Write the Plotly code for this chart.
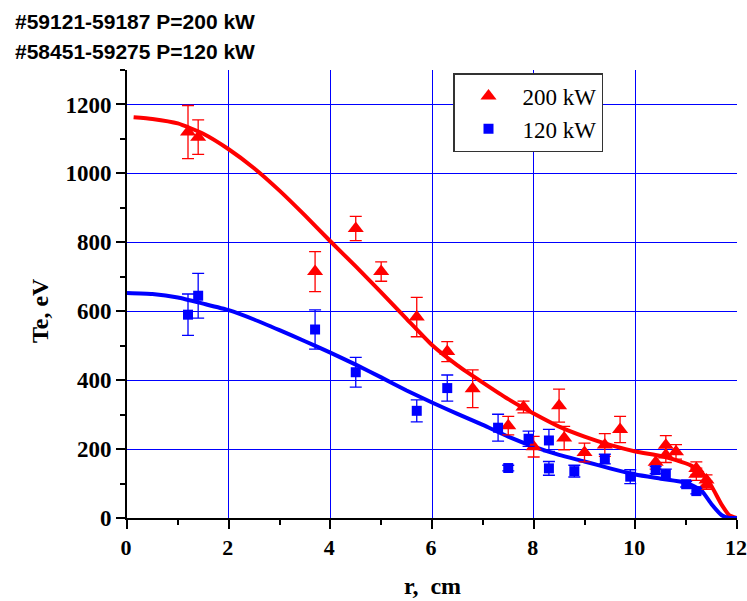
import plotly.graph_objects as go

# measured points, 200 kW
r_200 = [1.2, 1.4, 3.7, 4.5, 5.0, 5.7, 6.3, 6.8, 7.5, 7.8, 8.0, 8.5, 8.6, 9.0, 9.4, 9.7,
         10.4, 10.6, 10.6, 10.8, 11.2, 11.2, 11.4, 11.4]
te_200 = [1120, 1105, 715, 840, 715, 583, 483, 375, 268, 322, 207, 326, 232, 190, 212, 257,
          162, 211, 183, 192, 144, 127, 110, 95]
err_200 = [77, 50, 58, 35, 28, 57, 29, 55, 27, 17, 30, 48, 34, 27, 33, 38,
           20, 28, 22, 21, 19, 18, 15, 12]

# measured points, 120 kW
r_120 = [1.2, 1.4, 3.7, 4.5, 5.7, 6.3, 7.3, 7.5, 7.9, 8.3, 8.3, 8.8, 9.4, 9.9,
         10.4, 10.6, 11.0, 11.2]
te_120 = [590, 645, 547, 423, 311, 377, 262, 145, 230, 225, 144, 136, 171, 120,
          139, 127, 98, 78]
err_120 = [60, 65, 57, 43, 32, 38, 39, 8, 22, 32, 20, 17, 14, 20,
           10, 15, 8, 8]

# fitted profiles
fit_r_200 = [0.13, 0.5, 1.0, 1.5, 2.0, 2.5, 3.0, 3.5, 4.0, 4.5, 5.0, 5.5, 6.0, 6.5, 7.0,
             7.5, 8.0, 8.5, 9.0, 9.5, 10.0, 10.5, 10.8, 11.1, 11.3, 11.5, 11.7, 11.85, 12.0]
fit_te_200 = [1163, 1158, 1145, 1115, 1070, 1015, 950, 878, 803, 730, 655, 578, 502, 443, 393,
              345, 303, 265, 236, 212, 193, 180, 168, 152, 133, 92, 38, 8, 0]

fit_r_120 = [0.0, 0.5, 1.0, 1.5, 2.0, 2.5, 3.0, 3.5, 4.0, 4.5, 5.0, 5.5, 6.0, 6.5, 7.0,
             7.5, 8.0, 8.5, 9.0, 9.5, 10.0, 10.5, 11.0, 11.3, 11.5, 11.7, 11.85, 12.0]
fit_te_120 = [653, 650, 640, 622, 603, 576, 545, 513, 480, 445, 408, 370, 335, 302, 270,
              236, 207, 183, 164, 144, 126, 114, 102, 80, 40, 8, 0, 0]

title_lines = ["#59121-59187 P=200 kW", "#58451-59275 P=120 kW"]

RED = "#ff0000"
BLUE = "#0000ff"
SERIF = "Liberation Serif"

# page body margin is removed (post_script below), so figure pixels = window pixels
W, H = 747, 601
L, T = 127, 70
PW, PH = 610, 448


def px_x(x):
    return (x - L) / PW


def px_y(y):
    return 1 - (y - T) / PH


fig = go.Figure()

fig.add_trace(go.Scatter(x=fit_r_200, y=fit_te_200, mode="lines",
                         line={"color": RED, "width": 4, "shape": "spline", "smoothing": 0.5},
                         showlegend=False, hoverinfo="skip"))
fig.add_trace(go.Scatter(x=fit_r_120, y=fit_te_120, mode="lines",
                         line={"color": BLUE, "width": 4, "shape": "spline", "smoothing": 0.5},
                         showlegend=False, hoverinfo="skip"))

fig.add_trace(go.Scatter(
    x=r_200, y=te_200, mode="markers", name="200 kW",
    marker={"symbol": "triangle-up", "size": 14, "color": RED},
    error_y={"type": "data", "array": err_200, "color": RED, "thickness": 1.3, "width": 6},
))
fig.add_trace(go.Scatter(
    x=r_120, y=te_120, mode="markers", name="120 kW",
    marker={"symbol": "square", "size": 10, "color": BLUE},
    error_y={"type": "data", "array": err_120, "color": BLUE, "thickness": 1.3, "width": 6},
))

axis_common = {
    "showline": True, "linecolor": "black", "linewidth": 2,
    "ticks": "outside", "ticklen": 9, "tickwidth": 2, "tickcolor": "black",
    "showgrid": True, "gridcolor": BLUE, "gridwidth": 1,
    "zeroline": False, "automargin": False, "ticklabeloverflow": "allow",
}

fig.update_xaxes(range=[0, 12], dtick=2, tick0=0, ticklabelshift=-1,
                 tickfont={"family": SERIF, "size": 22, "color": "black", "weight": "bold"},
                 minor={"dtick": 1, "ticks": "outside", "ticklen": 5, "tickwidth": 2,
                        "tickcolor": "black", "showgrid": False},
                 **axis_common)
fig.update_yaxes(range=[0, 1300], dtick=200, tick0=0,
                 tickfont={"family": SERIF, "size": 23, "color": "black", "weight": "bold"},
                 minor={"dtick": 100, "ticks": "outside", "ticklen": 5, "tickwidth": 2,
                        "tickcolor": "black", "showgrid": False},
                 **axis_common)

for i, line in enumerate(title_lines):
    fig.add_annotation(text=line, xref="paper", yref="paper",
                       x=px_x(13), y=px_y(22 + 29 * i),
                       xanchor="left", yanchor="middle", showarrow=False,
                       font={"family": "Liberation Sans", "size": 21, "color": "black",
                             "weight": "bold"})

fig.add_annotation(text="r,  cm", xref="paper", yref="paper", x=0.5, y=px_y(586),
                   xanchor="center", yanchor="middle", showarrow=False,
                   font={"family": SERIF, "size": 24, "color": "black", "weight": "bold"})
fig.add_annotation(text="Te, eV", xref="paper", yref="paper", x=px_x(40), y=px_y(311),
                   xanchor="center", yanchor="middle", showarrow=False, textangle=-90,
                   font={"family": SERIF, "size": 24, "color": "black", "weight": "bold"})

fig.update_layout(
    width=W, height=H,
    margin={"l": L, "r": W - L - PW, "t": T, "b": H - T - PH, "pad": 0},
    paper_bgcolor="white", plot_bgcolor="white",
    legend={"x": px_x(453), "y": px_y(73), "xanchor": "left", "yanchor": "top",
            "bgcolor": "white", "bordercolor": "#333333", "borderwidth": 1.5,
            "font": {"family": SERIF, "size": 23, "color": "black"},
            "itemwidth": 58, "tracegroupgap": 0},
)

fig.write_html("out.html", config={"displayModeBar": False},
               post_script="document.body.style.margin='0';document.body.style.overflow='hidden';")
